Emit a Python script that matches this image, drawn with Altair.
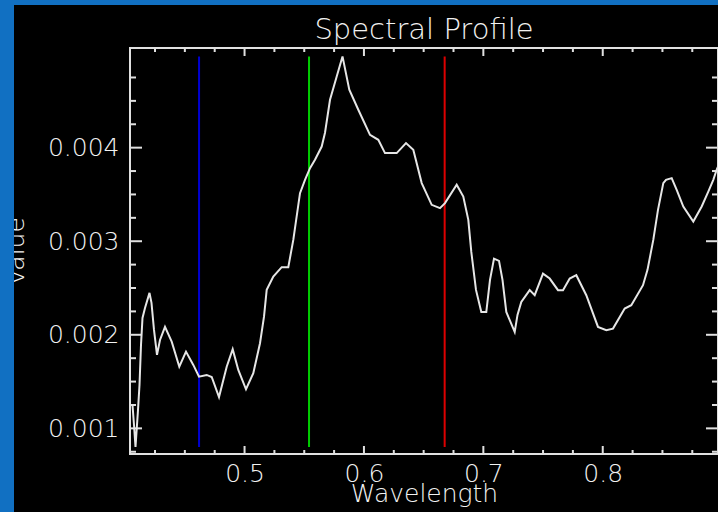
import altair as alt
import pandas as pd

# ---- data ----
wavelength = [0.40615, 0.40741, 0.40867, 0.41076, 0.41202, 0.41327, 0.41453, 0.41662,
              0.42039, 0.42206, 0.42416, 0.42667, 0.42918, 0.43337, 0.43898, 0.44535,
              0.45096, 0.45708, 0.46185, 0.46830, 0.47249, 0.47860, 0.48505, 0.49007,
              0.49476, 0.50121, 0.50733, 0.51294, 0.51629, 0.51855, 0.52408, 0.53111,
              0.53664, 0.54083, 0.54644, 0.55063, 0.55482, 0.55900, 0.56461, 0.56738,
              0.57157, 0.57718, 0.58204, 0.58773, 0.59527, 0.60507, 0.61202, 0.61763,
              0.62743, 0.63522, 0.64133, 0.64837, 0.65674, 0.66369, 0.66788, 0.67768,
              0.68321, 0.68740, 0.68991, 0.69384, 0.69828, 0.70247, 0.70557, 0.70892,
              0.71311, 0.71604, 0.71922, 0.72626, 0.72860, 0.73178, 0.73882, 0.74301,
              0.74996, 0.75557, 0.76252, 0.76671, 0.77232, 0.77785, 0.78622, 0.79602,
              0.80297, 0.80859, 0.81839, 0.82391, 0.83371, 0.83748, 0.84234, 0.84627,
              0.85071, 0.85297, 0.85775, 0.86193, 0.86746, 0.87584, 0.88287, 0.88840,
              0.89259, 0.89569, 0.89988]
value = [0.001250, 0.001036, 0.000801, 0.001196, 0.001464, 0.001891, 0.002180, 0.002287,
         0.002448, 0.002341, 0.002052, 0.001785, 0.001945, 0.002084, 0.001927, 0.001659,
         0.001820, 0.001678, 0.001552, 0.001571, 0.001549, 0.001335, 0.001659, 0.001846,
         0.001624, 0.001418, 0.001589, 0.001910, 0.002194, 0.002480, 0.002622, 0.002723,
         0.002723, 0.003014, 0.003514, 0.003656, 0.003781, 0.003870, 0.004012, 0.004159,
         0.004512, 0.004761, 0.004975, 0.004619, 0.004405, 0.004137, 0.004084, 0.003942,
         0.003942, 0.004049, 0.003977, 0.003621, 0.003389, 0.003353, 0.003407, 0.003603,
         0.003478, 0.003228, 0.002886, 0.002480, 0.002244, 0.002244, 0.002587, 0.002814,
         0.002790, 0.002587, 0.002244, 0.002031, 0.002212, 0.002351, 0.002477, 0.002423,
         0.002654, 0.002601, 0.002477, 0.002477, 0.002601, 0.002637, 0.002423, 0.002084,
         0.002049, 0.002066, 0.002280, 0.002316, 0.002530, 0.002694, 0.003014, 0.003335,
         0.003621, 0.003656, 0.003674, 0.003549, 0.003371, 0.003210, 0.003371, 0.003531,
         0.003656, 0.003774, 0.003891]

band_wavelength = [0.4619, 0.5540, 0.6676]
band_color = ["#0000d2", "#00cc00", "#dc0000"]

x_major_values = [0.5, 0.6, 0.7, 0.8]
x_minor_values = [0.425, 0.45, 0.475, 0.525, 0.55, 0.575, 0.625, 0.65, 0.675,
                  0.725, 0.75, 0.775, 0.825, 0.85, 0.875]
y_major_values = [0.001, 0.002, 0.003, 0.004]
y_minor_values = [0.00075, 0.00125, 0.0015, 0.00175, 0.00225, 0.0025, 0.00275,
                  0.00325, 0.0035, 0.00375, 0.00425, 0.0045, 0.00475]
x_domain = [0.40406, 0.89653]
y_domain = [0.000726, 0.005065]

# ---- styling ----
W, H = 588, 406
FG = "#e0e0e0"
TEXT = "#f2f2f2"
LINE = "#e6e6e6"
FONT = "DejaVu Sans"
WEIGHT = 200
DESK = "#1170c2"
X_MAJOR_LEN, X_MINOR_LEN = 8, 4
Y_MAJOR_LEN, Y_MINOR_LEN = 12, 6

spectrum = pd.DataFrame({"Wavelength": wavelength, "Value": value})
vmin, vmax = min(value), max(value)

xs = alt.Scale(domain=x_domain, nice=False, zero=False)
ys = alt.Scale(domain=y_domain, nice=False, zero=False)


def band_layer(i):
    df = pd.DataFrame({"Wavelength": [band_wavelength[i]], "lo": [vmin], "hi": [vmax]})
    return alt.Chart(df).mark_rule(color=band_color[i], strokeWidth=2).encode(
        x=alt.X("Wavelength:Q", scale=xs, axis=None),
        y=alt.Y("lo:Q", scale=ys, axis=None),
        y2="hi:Q",
    )


def x_ticks(vals, length, at_top):
    # inward tick marks on the top / bottom frame, placed by the x scale
    centre = length / 2 if at_top else H - length / 2
    return alt.Chart(pd.DataFrame({"Wavelength": vals})).mark_tick(
        color=FG, orient="vertical", size=length, thickness=2, opacity=1).encode(
        x=alt.X("Wavelength:Q", scale=xs, axis=None),
        y=alt.value(centre))


def y_ticks(vals, length, at_right):
    # inward tick marks on the left / right frame, placed by the y scale
    centre = W - length / 2 if at_right else length / 2
    return alt.Chart(pd.DataFrame({"Value": vals})).mark_tick(
        color=FG, orient="horizontal", size=length, thickness=2, opacity=1).encode(
        y=alt.Y("Value:Q", scale=ys, axis=None),
        x=alt.value(centre))


tick_layers = [
    x_ticks(x_major_values, X_MAJOR_LEN, False),
    x_ticks(x_minor_values, X_MINOR_LEN, False),
    x_ticks(x_major_values, X_MAJOR_LEN, True),
    x_ticks(x_minor_values, X_MINOR_LEN, True),
    y_ticks(y_major_values, Y_MAJOR_LEN, False),
    y_ticks(y_minor_values, Y_MINOR_LEN, False),
    y_ticks(y_major_values, Y_MAJOR_LEN, True),
    y_ticks(y_minor_values, Y_MINOR_LEN, True),
]

curve = alt.Chart(spectrum).mark_line(color=LINE, strokeWidth=2, clip=True).encode(
    x=alt.X("Wavelength:Q", scale=xs,
            axis=alt.Axis(orient="bottom", values=x_major_values, format=".1f",
                          ticks=False, tickSize=0, grid=False, domain=False,
                          labelPadding=7,
                          title="Wavelength", titleX=W / 2, titleY=47,
                          titleAlign="center", titleBaseline="alphabetic")),
    y=alt.Y("Value:Q", scale=ys,
            axis=alt.Axis(orient="left", values=y_major_values, format=".3f",
                          ticks=False, tickSize=0, grid=False, domain=False,
                          labelPadding=11,
                          title="Value", titleAngle=270, titleX=-107, titleY=H / 2,
                          titleAlign="center", titleBaseline="alphabetic")),
)

one = pd.DataFrame({"k": [0]})
desk_left = alt.Chart(one).mark_rect(color=DESK).encode(
    x=alt.value(-130), x2=alt.value(-116), y=alt.value(-48), y2=alt.value(H + 58))
desk_top = alt.Chart(one).mark_rect(color=DESK).encode(
    x=alt.value(-130), x2=alt.value(W), y=alt.value(-48), y2=alt.value(-43))

layers = [band_layer(0), band_layer(1), band_layer(2)] + tick_layers + [
    curve, desk_left, desk_top]

chart = alt.layer(*layers).resolve_axis(
    x="independent", y="independent"
).properties(
    width=W, height=H,
    autosize=alt.AutoSizeParams(type="none"),
    padding={"left": 130, "top": 48, "right": 0, "bottom": 58},
    background="black",
    title=alt.TitleParams("Spectral Profile", font=FONT, fontSize=29,
                          fontWeight=WEIGHT, color=TEXT, anchor="middle",
                          frame="group", baseline="alphabetic", offset=0, dy=68),
).configure_view(stroke=FG, strokeWidth=2).configure_axis(
    labelFont=FONT, labelFontSize=25, labelColor=TEXT, labelFontWeight=WEIGHT,
    titleFont=FONT, titleFontSize=25, titleColor=TEXT, titleFontWeight=WEIGHT,
)

chart.save("out.html", embed_options={"renderer": "svg", "actions": False})
